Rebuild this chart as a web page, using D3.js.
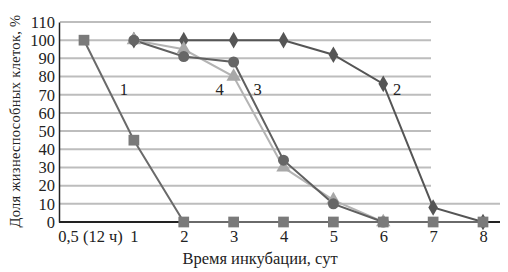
<!DOCTYPE html>
<html>
<head>
<meta charset="utf-8">
<script src="https://cdn.jsdelivr.net/npm/d3@7"></script>
<style>
  body { margin: 0; background: #fff; }
  text { font-family: "Liberation Serif", "DejaVu Serif", serif; fill: #222; }
</style>
</head>
<body>
<div class="chart"></div>
<script>
var width = 508,
    height = 272;

var categories = ["0,5 (12 ч)", "1", "2", "3", "4", "5", "6", "7", "8"];
var yTicks = [0, 10, 20, 30, 40, 50, 60, 70, 80, 90, 100, 110];

// null = no point for that day
var series1 = [100, 45, 0, 0, 0, 0, 0, 0, 0];
var series2 = [null, 100, 100, 100, 100, 92, 76, 8, 0];
var series3 = [null, 100, 91, 88, 34, 10, 0, null, null];
var series4 = [null, 100, 95, 80, 30, 12, 0, null, null];

var curveLabels = ["1", "4", "3", "2"];
var labelAt = [[0.8, 70], [2.72, 70], [3.48, 70], [6.28, 70]];

var svg = d3.select(".chart")
    .append("svg")
    .attr("width", width)
    .attr("height", height);

var x = d3.scalePoint()
    .domain(categories)
    .range([84, 483]);

var y = d3.scaleLinear()
    .domain([0, 110])
    .range([222, 22]);

var xi = i => x(categories[i]);

// grid
svg.append("g")
    .selectAll("line")
    .data(yTicks.filter(d => d > 0))
    .join("line")
    .attr("x1", 60)
    .attr("x2", d => d >= 20 ? 431 : 500)
    .attr("y1", d => y(d))
    .attr("y2", d => y(d))
    .attr("stroke", "#bdbdbd")
    .attr("stroke-width", 2);

// axes
var yAxis = svg.append("g")
    .attr("transform", "translate(59,0)")
    .call(d3.axisLeft(y).tickValues(yTicks).tickSize(0).tickPadding(4));
yAxis.select(".domain").attr("stroke", "#222").attr("stroke-width", 1.5);
yAxis.selectAll("text").style("font-size", "16.5px").attr("fill", "#222");

var xAxis = svg.append("g")
    .attr("transform", "translate(0,222)")
    .call(d3.axisBottom(x).tickSize(0).tickPadding(8));
xAxis.select(".domain")
    .attr("d", "M59,0H500")
    .attr("stroke", "#222")
    .attr("stroke-width", 2);
xAxis.selectAll("text")
    .style("font-size", "16.5px")
    .attr("fill", "#222")
    .attr("dx", (d, i) => i === 0 ? 6 : 0);

svg.append("text")
    .attr("x", 260)
    .attr("y", 264)
    .attr("text-anchor", "middle")
    .style("font-size", "16.5px")
    .text("Время инкубации, сут");

svg.append("text")
    .attr("transform", "translate(20,121) rotate(-90)")
    .attr("text-anchor", "middle")
    .style("font-size", "14.5px")
    .style("letter-spacing", "0.3px")
    .text("Доля жизнеспособных клеток, %");

var line = d3.line()
    .defined(d => d.v !== null)
    .x(d => xi(d.i))
    .y(d => y(d.v));

function pts(arr) {
    return arr.map((v, i) => ({ i: i, v: v }));
}

// drawing order: diamonds under, squares on top
var list = [
    { data: series2, line: "#555555", fill: "#555555", shape: d3.symbolDiamond, size: 80 },
    { data: series4, line: "#b4b4b4", fill: "#a8a8a8", shape: d3.symbolTriangle, size: 90 },
    { data: series3, line: "#606060", fill: "#666666", shape: d3.symbolCircle, size: 95 },
    { data: series1, line: "#6a6a6a", fill: "#7a7a7a", shape: d3.symbolSquare, size: 115 }
];

list.forEach(function (s) {
    svg.append("path")
        .attr("d", line(pts(s.data)))
        .attr("fill", "none")
        .attr("stroke", s.line)
        .attr("stroke-width", 2);
});

list.forEach(function (s) {
    svg.append("g")
        .selectAll("path")
        .data(pts(s.data).filter(d => d.v !== null))
        .join("path")
        .attr("transform", d => `translate(${xi(d.i)},${y(d.v)})`)
        .attr("d", d3.symbol().type(s.shape).size(s.size))
        .attr("fill", s.fill);
});

svg.append("g")
    .selectAll("text")
    .data(curveLabels)
    .join("text")
    .attr("x", (d, i) => x.step() * labelAt[i][0] + 84)
    .attr("y", (d, i) => y(labelAt[i][1]))
    .attr("text-anchor", "middle")
    .style("font-size", "16.5px")
    .text(d => d);
</script>
</body>
</html>
